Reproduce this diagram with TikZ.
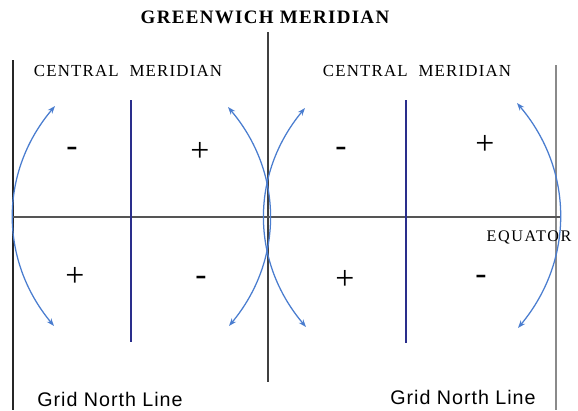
\documentclass[tikz,border=0pt]{standalone}
\usepackage{fontspec}
\setmainfont{Liberation Serif}
\newfontfamily\capsfont[LetterSpace=7]{Liberation Serif}
\newfontfamily\eqfont[LetterSpace=10]{Liberation Serif}
\newfontfamily\gridfont[LetterSpace=5]{Liberation Sans}
\usepackage{xcolor}
\definecolor{arcblue}{HTML}{4A7DCF}
\definecolor{cmnavy}{HTML}{2A2E8C}
\definecolor{eqgray}{HTML}{555555}
\definecolor{edgegray}{HTML}{8A8A8A}
\usetikzlibrary{arrows.meta, positioning}

\begin{document}
\begin{tikzpicture}[x=0.025cm, y=-0.025cm,
  capslabel/.style={font=\capsfont\fontsize{12}{12}\selectfont, inner sep=0pt},
  gridlabel/.style={font=\gridfont\fontsize{14}{14}\selectfont, inner sep=0pt},
  sign/.style={font=\fontsize{24}{24}\selectfont, inner sep=0pt},
  zoneline/.style={line width=1.1pt},
  cmline/.style={cmnavy, line width=1.1pt},
  swing/.style={{Stealth[length=5.5pt,width=4pt]}-{Stealth[length=5.5pt,width=4pt]}, arcblue, line width=0.9pt}
]
\useasboundingbox (0,0) rectangle (578,410);

\draw[zoneline, black!85] (13,60) -- (13,410);
\draw[zoneline, black!75] (268,32) -- (268,382);
\draw[zoneline, edgegray] (556,65) -- (556,410);
\draw[zoneline, eqgray] (13,217) -- (560,217);
\draw[cmline] (131,100) -- (131,342);
\draw[cmline] (406,100) -- (406,343);

\node[capslabel, font=\capsfont\fontsize{13.5}{13.5}\selectfont\bfseries] (gw) at (265,17) {GREENWICH MERIDIAN};
\node[capslabel] (cmleft) at (128,71) {CENTRAL\ \ MERIDIAN};
\node[capslabel] (cmright) at (417,71) {CENTRAL\ \ MERIDIAN};
\node[capslabel, font=\eqfont\fontsize{11.5}{11.5}\selectfont] (eq) at (529,237) {EQUATOR};
\node[gridlabel] (gnleft) at (110,399) {Grid North Line};
\node[gridlabel] (gnright) at (463,397) {Grid North Line};

\node[sign] (nw1) at (72,152) {-};
\node[sign] (nw2) at (200,152) {+};
\node[sign] (ne1) at (341,152) {-};
\node[sign] (ne2) at (485,145) {+};
\node[sign] (sw1) at (75,277) {+};
\node[sign] (sw2) at (201,281) {-};
\node[sign] (se1) at (345,280) {+};
\node[sign] (se2) at (481,280) {-};

\coordinate (a1) at (55,106);
\coordinate (b1) at (54,326);
\coordinate (a2) at (228,107);
\coordinate (b2) at (229,326);
\coordinate (a3) at (305,108);
\coordinate (b3) at (306,327);
\coordinate (a4) at (517,103);
\coordinate (b4) at (518,328);

\draw[swing] (a1) to[bend right=40] (b1);
\draw[swing] (a2) to[bend left=40] (b2);
\draw[swing] (a3) to[bend right=40] (b3);
\draw[swing] (a4) to[bend left=40] (b4);
\end{tikzpicture}
\end{document}
